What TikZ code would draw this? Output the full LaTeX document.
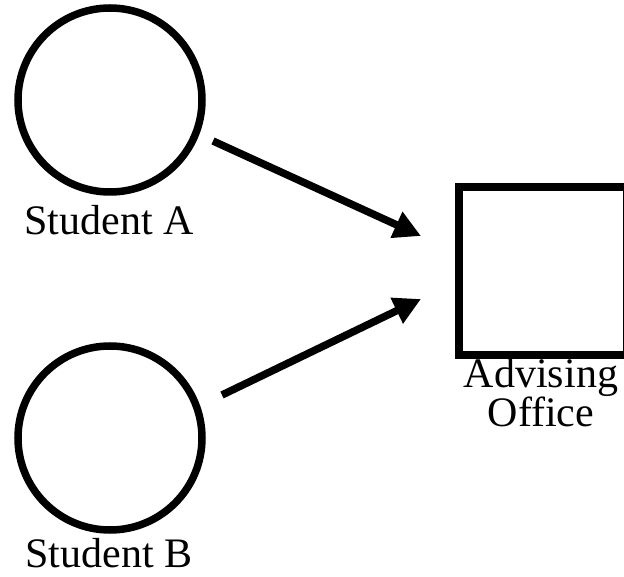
\documentclass[tikz,border=0pt]{standalone}
\usepackage{fontspec}
\setmainfont{Liberation Serif}
\usetikzlibrary{arrows.meta}
\begin{document}
\begin{tikzpicture}[x=1pt,y=1pt,
  person/.style={draw, circle, line width=7.5pt, minimum size=184pt, inner sep=0pt},
  office/.style={draw, rectangle, line width=8pt, minimum size=168pt, inner sep=0pt},
  lbl/.style={font=\fontsize{42}{40}\selectfont, inner sep=0pt, anchor=base},
  flow/.style={line width=7.5pt, -{Triangle[length=27pt,width=27pt]}}]
\useasboundingbox (0,0) rectangle (624,576);
\node[person] (A) at (110,476) {};
\node[person] (B) at (110,138) {};
\node[office] (O) at (543,304.5) {};
\node[lbl] (la) at (109,341) {Student A};
\node[lbl] (lb) at (109,9) {Student B};
\node[lbl] (lo1) at (541,188) {Advising};
\node[lbl] (lo2) at (541,149) {Office};
\coordinate (a1) at (213,435);
\coordinate (a2) at (421,340);
\coordinate (b1) at (222,181);
\coordinate (b2) at (421,277);
\draw[flow] (a1) -- (a2);
\draw[flow] (b1) -- (b2);
\end{tikzpicture}
\end{document}
